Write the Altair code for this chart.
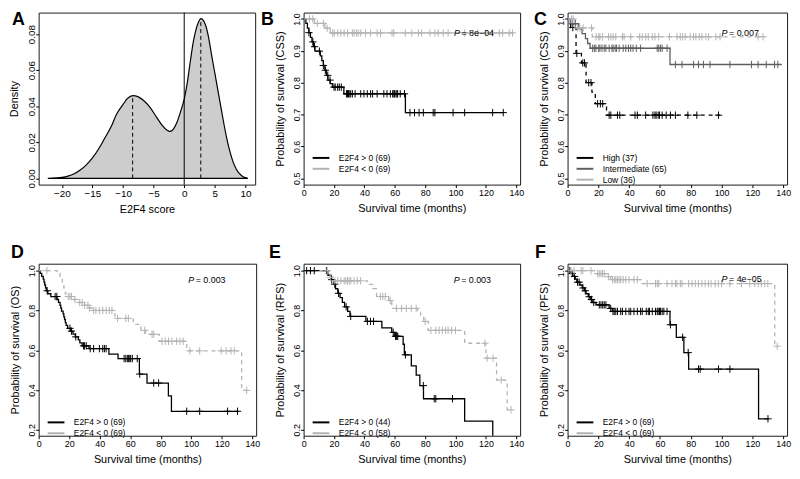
import altair as alt
import pandas as pd

FONT = "Liberation Sans"
PLUS = "M-1,0L1,0M0,-1L0,1"
LEG_LINE = "M-2.5,0L2.5,0"
BLACK = "#000000"
DARK = "#5e5e5e"
LIGHT = "#b3b3b3"

# ---------------- Panel A: density of E2F4 score ----------------
dens_x = [-22.3, -21, -20, -19, -18, -17, -16, -15, -14, -13, -12, -11, -10, -9.3, -8.4,
          -7.5, -6.5, -5.5, -4.5, -3.5, -2.8, -2.3, -1.8, -1.2, -0.6, 0, 0.5, 1, 1.5, 2,
          2.4, 2.7, 3, 3.5, 4, 4.5, 5, 5.5, 6, 6.5, 7, 7.5, 8, 8.5, 9, 9.5, 10, 10.4]
dens_y = [0, 0.0002, 0.0005, 0.0012, 0.0025, 0.0046, 0.0075, 0.0113, 0.0163, 0.0222, 0.0283,
          0.036, 0.041, 0.0442, 0.0459, 0.0452, 0.0428, 0.039, 0.0338, 0.029, 0.0267, 0.0261,
          0.0272, 0.031, 0.037, 0.044, 0.053, 0.065, 0.076, 0.0835, 0.0872, 0.0886, 0.0882,
          0.085, 0.078, 0.068, 0.0585, 0.049, 0.0395, 0.030, 0.0215, 0.0145, 0.009, 0.0052,
          0.0027, 0.0012, 0.0004, 0]
peak_x = [-8.43, 2.71]
peak_y = [0.0459, 0.0886]
a_xticks = [-20, -15, -10, -5, 0, 5, 10]
a_yticks = [0, 0.02, 0.04, 0.06, 0.08]

# ---------------- KM curves (step times, survival, end time, censor times) ----------------
B_pos_t = [0, 1.5, 2.5, 3.5, 4.5, 5.5, 6.5, 7.5, 11, 12, 13, 14, 15, 16, 17.5, 19, 26.5, 67]
B_pos_s = [1.0, 0.986, 0.971, 0.957, 0.942, 0.928, 0.913, 0.899, 0.884, 0.869, 0.854, 0.839,
           0.823, 0.808, 0.797, 0.786, 0.765, 0.706]
B_pos_end = 132
B_pos_c = [3.5, 6.1, 7.2, 10.4, 13, 14.3, 15.9, 17.4, 20, 20.8, 22.4, 23.5, 24.8, 28.2, 28.9,
           29.6, 30, 31, 32.1, 33.9, 37.6, 39.7, 41.9, 44.1, 45.4, 48.4, 52.8, 54.9, 57.1, 58.6,
           59.4, 59.9, 60.8, 61.5, 61.9, 63.6, 66.4, 70, 73, 76, 78.8, 85.3, 86.4, 98.4, 106,
           124.4, 131.4]
B_neg_t = [0, 7, 14, 17.5]
B_neg_s = [1.0, 0.986, 0.971, 0.956]
B_neg_end = 138.5
B_neg_c = [3.9, 6, 9, 13, 15.5, 19.1, 20.2, 22.4, 24.5, 26.7, 28.9, 32.1, 33.2, 34.7, 36, 37.6,
           40.8, 44.1, 48.4, 50.6, 58.2, 59.3, 66.9, 71.2, 75.6, 77.7, 83.2, 86.4, 88.6, 91.9,
           95.1, 106, 114.7, 120, 124.4, 128.8, 131, 135.3, 137.5]

C_high_t = [0, 2, 5.5, 9, 12, 15.8, 18, 25.3]
C_high_s = [1.0, 0.973, 0.892, 0.862, 0.80, 0.77, 0.734, 0.698]
C_high_end = 99
C_high_c = [3.4, 6, 9.9, 11, 13.7, 15.2, 19.5, 21.3, 22.8, 27, 28.1, 32.4, 33.9, 43.8, 45.3,
            50.7, 55.4, 56.7, 57.5, 58.8, 59.7, 61.4, 64, 66.8, 70, 78.1, 83.9, 98]
C_int_t = [0, 1.7, 7.3, 9.4, 11.6, 13, 14.6, 66.5]
C_int_s = [1.0, 0.985, 0.969, 0.954, 0.938, 0.923, 0.908, 0.857]
C_int_end = 139
C_int_c = [3, 5, 16.3, 17.4, 18.4, 20.2, 21, 22.3, 23.8, 24.9, 27, 28.8, 29.6, 30.9, 31.8, 33.5,
           36.1, 37.8, 39.5, 41, 42.5, 44.6, 47.4, 58.2, 59.2, 60.3, 61.4, 64.6, 70, 74.3, 81.8,
           85, 88.2, 92.5, 105.4, 119.4, 123.7, 129, 134.4, 136.5]
C_low_t = [0, 5, 16]
C_low_s = [1.0, 0.972, 0.944]
C_low_end = 128
C_low_c = [2.5, 3.6, 6.5, 8, 10.1, 15.5, 18.5, 20.2, 21, 22.8, 26.6, 28.1, 29.6, 31.3, 35.6,
           36.7, 41, 46.8, 48.5, 50.7, 52.4, 55, 56.7, 59.2, 66.1, 71, 73.2, 74.7, 76.4, 79.6,
           81.8, 83.3, 85.5, 87.2, 89.8, 91.5, 96.2, 99, 123.7, 126.9]

D_pos_t = [0, 1, 2, 3, 3.5, 4, 4.5, 5, 6, 8, 12, 13, 14, 14.5, 15, 16, 16.5, 17, 17.5, 18, 19,
           21, 22.5, 24, 26, 27, 28.5, 33, 46, 52, 66, 71, 85, 87]
D_pos_s = [1.0, 0.986, 0.971, 0.957, 0.942, 0.928, 0.913, 0.899, 0.884, 0.870, 0.855, 0.841,
           0.826, 0.812, 0.797, 0.783, 0.768, 0.754, 0.739, 0.725, 0.71, 0.696, 0.681, 0.667,
           0.652, 0.637, 0.622, 0.608, 0.58, 0.558, 0.48, 0.435, 0.37, 0.293]
D_pos_end = 131
D_pos_c = [5.6, 10.8, 11.9, 20.5, 21.5, 24.3, 29.4, 30.1, 31.2, 33.8, 36, 39.8, 42, 43.1, 44.2,
           56, 57.1, 58.1, 58.8, 59.7, 60.3, 61.4, 64.6, 66.2, 75.4, 78.6, 97, 105.5, 123.8, 130.3]
D_neg_t = [0, 12, 14, 15.5, 16.5, 17.5, 18, 23, 25, 30, 33, 35, 50, 62, 67, 70, 79, 97, 133]
D_neg_s = [1.0, 0.986, 0.971, 0.942, 0.913, 0.884, 0.870, 0.855, 0.840, 0.826, 0.812, 0.80,
           0.76, 0.73, 0.70, 0.68, 0.645, 0.597, 0.398]
D_neg_end = 136.3
D_neg_c = [5.4, 19.4, 20.5, 21.5, 23.7, 26.9, 28.6, 30.1, 32.3, 33.4, 36, 37.5, 39.8, 42, 44.2,
           46.3, 48, 51.7, 57.1, 58.8, 69.5, 74.3, 75.4, 80.8, 82.9, 85.1, 87.3, 90.4, 92.6,
           94.7, 99.1, 105.5, 119.6, 122.8, 126, 128.2, 136.3]

E_pos_t = [0, 16, 18, 20, 21, 22.5, 24, 25.5, 27, 29, 30.5, 41, 51.5, 58, 60, 65.5, 66.3, 70.9,
           74.1, 76.5, 78.9, 106, 124.5]
E_pos_s = [1.0, 0.977, 0.955, 0.932, 0.909, 0.886, 0.864, 0.841, 0.818, 0.795, 0.77, 0.745,
           0.712, 0.69, 0.67, 0.63, 0.577, 0.521, 0.475, 0.422, 0.356, 0.243, 0.0]
E_pos_end = 124.5
E_pos_c = [2, 4.5, 7, 15, 18.5, 20.5, 23, 28, 31, 42, 44, 46, 59, 60.5, 61, 61.5, 62, 67, 78.8,
           86, 87, 98]
E_neg_t = [0, 16.5, 17.5, 19, 42, 45.5, 48, 56, 58, 75, 77, 79, 82, 106, 120, 127, 134]
E_neg_s = [1.0, 0.983, 0.966, 0.949, 0.931, 0.91, 0.87, 0.85, 0.81, 0.795, 0.77, 0.745, 0.70,
           0.635, 0.56, 0.45, 0.30]
E_neg_end = 136.5
E_neg_c = [15.5, 17.5, 20.5, 22.4, 24.5, 26.7, 27.8, 28.9, 30, 31, 33.2, 35.3, 37.5, 50.5,
           52.1, 53.7, 57, 61.2, 64.4, 67.6, 70.9, 74.1, 80, 83.8, 87, 89.2, 91.3, 93.5, 95.1,
           97.3, 100, 119.3, 120.8, 124.7, 130.1, 136.5]

F_pos_t = [0, 2, 3.5, 5, 6, 8, 9.5, 11, 12, 13.5, 15, 16, 18.5, 27, 29, 66.5, 70.6, 75.5, 78.6, 124]
F_pos_s = [1.0, 0.986, 0.971, 0.957, 0.942, 0.928, 0.913, 0.899, 0.884, 0.869, 0.855, 0.84,
           0.828, 0.81, 0.795, 0.728, 0.665, 0.588, 0.505, 0.255]
F_pos_end = 130.5
F_pos_c = [1.5, 3, 4.5, 6.5, 7.5, 10, 11.5, 14, 15.5, 17, 20.6, 21.7, 22.8, 23.8, 24.9, 28,
           29.5, 30.3, 31.3, 32.4, 34.5, 35.6, 37.8, 39.9, 41, 43.1, 45.3, 47.4, 48.5, 51.1,
           52.4, 53.2, 55, 57.1, 58.2, 58.8, 59.7, 60.3, 61.4, 62.5, 64.6, 66.8, 74.7, 78.3,
           85, 86.1, 98, 105.4, 130.1]
F_neg_t = [0, 18, 26, 28, 48.5, 134.5]
F_neg_s = [1.0, 0.985, 0.97, 0.955, 0.935, 0.62]
F_neg_end = 136.3
F_neg_c = [2.2, 4.3, 8.8, 9.9, 15.2, 19.5, 20.6, 21.7, 22.7, 23.8, 26.5, 29.2, 30.3, 31.3,
           32.4, 33.5, 34.6, 36.1, 37.8, 39.9, 43.1, 45.3, 51.7, 57.1, 58.2, 59.2, 64.6, 67.8,
           70, 71, 73.2, 74.3, 78.6, 80.8, 82.9, 85, 87.2, 89.3, 91.5, 93.2, 95.8, 97.9, 100,
           105.4, 112.9, 118.3, 121.5, 123.7, 125.8, 128, 130, 136.1]

km_xticks = [0, 20, 40, 60, 80, 100, 120, 140]
css_yticks = [0.5, 0.6, 0.7, 0.8, 0.9, 1.0]
os_yticks = [0.2, 0.4, 0.6, 0.8, 1.0]


def level_at(times, survs, t):
    v = survs[0]
    for ti, si in zip(times, survs):
        if ti <= t:
            v = si
    return v


def letter_title(letter, dx, dy):
    return alt.TitleParams(letter, anchor="start", frame="group", orient="top", offset=0,
                           baseline="top", dx=dx, dy=dy, fontSize=18, fontWeight="bold",
                           font=FONT, color="black")


def km_panel(curves, letter, ldx, ldy, ytitle, ydom, yvals, legend_y, p_value, p_t, p_s, width):
    labels = [c[0] for c in curves]
    colors = [c[1] for c in curves]
    solid_rows, dash_rows, cens_rows = [], [], []
    for lab, col, dashed, times, survs, end, cens in curves:
        target = dash_rows if dashed else solid_rows
        for t, s in zip(times, survs):
            target.append({"t": t, "s": s, "g": lab})
        target.append({"t": end, "s": survs[-1], "g": lab})
        for t in cens:
            cens_rows.append({"t": t, "s": level_at(times, survs, t), "g": lab})
    xs = alt.Scale(domain=[0, 142.5], nice=False, zero=False)
    ys = alt.Scale(domain=ydom, nice=False, zero=False)
    x_enc = alt.X("t:Q", scale=xs, title="Survival time (months)",
                  axis=alt.Axis(values=km_xticks, labelFlush=False))
    y_enc = alt.Y("s:Q", scale=ys, title=ytitle,
                  axis=alt.Axis(values=yvals, format=".1f", labelFlush=False))
    cscale = alt.Scale(domain=labels, range=colors)
    layers = [alt.Chart(pd.DataFrame(solid_rows)).mark_line(
        interpolate="step-after", strokeWidth=1.3, clip=True
    ).encode(
        x=x_enc, y=y_enc,
        color=alt.Color("g:N", scale=cscale, legend=alt.Legend(
            orient="none", legendX=13.1, legendY=legend_y, title=None, symbolType=LEG_LINE,
            symbolSize=46, symbolStrokeWidth=2, labelFontSize=8.5,
            labelFont=FONT, labelColor="black", labelOffset=13.5, rowPadding=2, padding=0)),
    )]
    if dash_rows:
        layers.append(alt.Chart(pd.DataFrame(dash_rows)).mark_line(
            interpolate="step-after", strokeWidth=1.3, strokeDash=[4, 4], clip=True
        ).encode(x=x_enc, y=y_enc, color=alt.Color("g:N", scale=cscale, legend=None)))
    layers.append(alt.Chart(pd.DataFrame(cens_rows)).mark_point(
        shape=PLUS, filled=False, size=55, strokeWidth=1, opacity=1, clip=True
    ).encode(x=x_enc, y=y_enc, color=alt.Color("g:N", scale=cscale, legend=None)))
    layers.append(alt.Chart(pd.DataFrame({"t": [p_t], "s": [p_s], "txt": ["P"]})).mark_text(
        align="left", baseline="middle", fontStyle="italic", fontSize=9, font=FONT, color="black"
    ).encode(x=x_enc, y=y_enc, text="txt:N"))
    layers.append(alt.Chart(pd.DataFrame({"t": [p_t], "s": [p_s], "txt": ["= " + p_value]})).mark_text(
        align="left", baseline="middle", dx=7.5, fontSize=9, font=FONT, color="black"
    ).encode(x=x_enc, y=y_enc, text="txt:N"))
    return alt.layer(*layers).properties(
        width=width, height=174, title=letter_title(letter, ldx, ldy))


# ---- Panel A ----
dens_df = pd.DataFrame({"x": dens_x, "d": dens_y})
peak_df = pd.DataFrame({"x": peak_x, "y0": [0, 0], "d": peak_y})
zero_df = pd.DataFrame({"x": [0]})
axs = alt.Scale(domain=[-23.8, 11.6], nice=False, zero=False)
ays = alt.Scale(domain=[-0.0035, 0.092], nice=False, zero=False)
ax_enc = alt.X("x:Q", scale=axs, title="E2F4 score",
               axis=alt.Axis(values=a_xticks, labelFlush=False, labelFontSize=10))
area = alt.Chart(dens_df).mark_area(
    interpolate="monotone", fill="#cdcdcd", stroke="black", strokeWidth=1.2
).encode(x=ax_enc, y=alt.Y("d:Q", scale=ays, title="Density",
                           axis=alt.Axis(values=a_yticks, format=".2f", labelFlush=False,
                                         labelFontSize=10)))
peaks = alt.Chart(peak_df).mark_rule(strokeDash=[4, 3], color="black", strokeWidth=1).encode(
    x=ax_enc, y=alt.Y("y0:Q", scale=ays, title="Density"), y2="d:Q")
zline = alt.Chart(zero_df).mark_rule(color="black", strokeWidth=1).encode(x=ax_enc)
TOP_DY = 17
BOT_DY = -2
panel_a = alt.layer(area, peaks, zline).properties(
    width=219, height=174, title=letter_title("A", -27, TOP_DY))

panel_b = km_panel(
    [("E2F4 > 0 (69)", BLACK, False, B_pos_t, B_pos_s, B_pos_end, B_pos_c),
     ("E2F4 < 0 (69)", LIGHT, False, B_neg_t, B_neg_s, B_neg_end, B_neg_c)],
    "B", -43, TOP_DY, "Probability of survival (CSS)", [0.48, 1.02], css_yticks, 142.5,
    "8e\u221204", 99, 0.956, 219)
panel_c = km_panel(
    [("High (37)", BLACK, True, C_high_t, C_high_s, C_high_end, C_high_c),
     ("Intermediate (65)", DARK, False, C_int_t, C_int_s, C_int_end, C_int_c),
     ("Low (36)", LIGHT, True, C_low_t, C_low_s, C_low_end, C_low_c)],
    "C", -34, TOP_DY, "Probability of survival (CSS)", [0.48, 1.02], css_yticks, 142.5,
    "0.007", 100, 0.957, 222)
panel_d = km_panel(
    [("E2F4 > 0 (69)", BLACK, False, D_pos_t, D_pos_s, D_pos_end, D_pos_c),
     ("E2F4 < 0 (69)", LIGHT, True, D_neg_t, D_neg_s, D_neg_end, D_neg_c)],
    "D", -28, BOT_DY, "Probability of survival (OS)", [0.17, 1.035], os_yticks, 156,
    "0.003", 98, 0.955, 220)
panel_e = km_panel(
    [("E2F4 > 0 (44)", BLACK, False, E_pos_t, E_pos_s, E_pos_end, E_pos_c),
     ("E2F4 < 0 (58)", LIGHT, True, E_neg_t, E_neg_s, E_neg_end, E_neg_c)],
    "E", -35, BOT_DY, "Probability of survival (RFS)", [0.17, 1.035], os_yticks, 156,
    "0.003", 98.8, 0.952, 219)
panel_f = km_panel(
    [("E2F4 > 0 (69)", BLACK, False, F_pos_t, F_pos_s, F_pos_end, F_pos_c),
     ("E2F4 < 0 (69)", LIGHT, True, F_neg_t, F_neg_s, F_neg_end, F_neg_c)],
    "F", -33, BOT_DY, "Probability of survival (PFS)", [0.17, 1.035], os_yticks, 156,
    "4e\u221205", 100, 0.957, 222)

chart = alt.concat(
    panel_a, panel_b, panel_c, panel_d, panel_e, panel_f,
    columns=3, spacing={"row": 80, "column": 48}, bounds="flush", align="each", padding=0
).resolve_scale(
    color="independent"
).resolve_legend(
    color="independent"
).configure_view(
    stroke="#1a1a1a", strokeWidth=1
).configure_axis(
    labelFont=FONT, titleFont=FONT, labelFontSize=9, titleFontSize=11,
    titleFontWeight="normal", labelColor="black", titleColor="black", tickColor="black",
    tickSize=3, domain=False, grid=False, labelPadding=1, labelOverlap=False
).configure_axisX(
    titlePadding=5
).configure_axisY(
    labelAngle=270, labelAlign="center", labelBaseline="alphabetic", titlePadding=7
)

chart.save("out.html", embed_options={"renderer": "svg", "actions": False})
